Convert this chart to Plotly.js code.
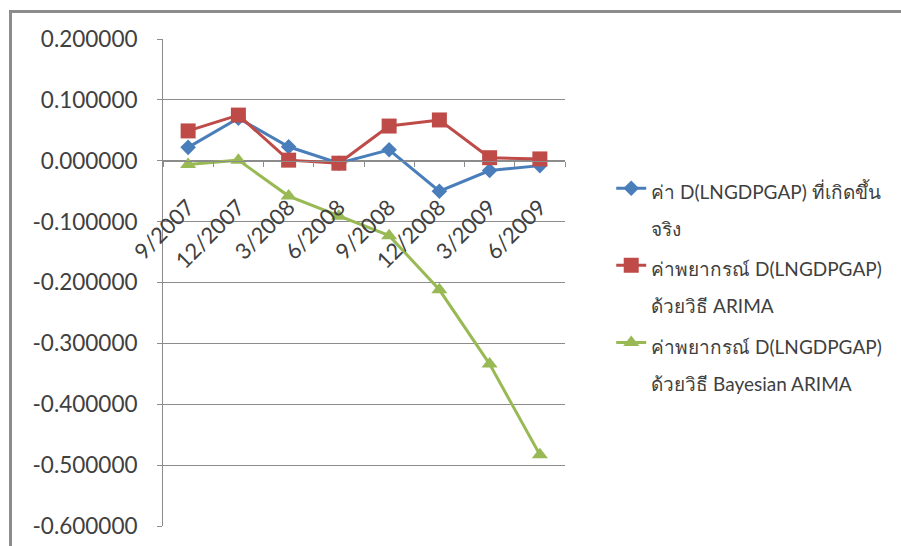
<!DOCTYPE html>
<html>
<head>
<meta charset="utf-8">
<script src="https://cdn.plot.ly/plotly-3.0.1.min.js"></script>
<style>
  html, body { margin: 0; padding: 0; background: #ffffff; }
  #frame { position: absolute; left: 0; top: 0; width: 901px; height: 546px; overflow: hidden; }
  #border { position: absolute; left: 9px; top: 10px; width: 900px; height: 540px;
            border-left: 3px solid #8c8c8c; border-top: 3px solid #8c8c8c; pointer-events: none; }
  #chart { position: absolute; left: 0; top: 0; width: 901px; height: 546px; }
</style>
</head>
<body>
<div id="frame">
  <div id="chart"></div>
  <div id="border"></div>
</div>
<script>
// Quarter labels on the category axis
const quarters = ['9/2007', '12/2007', '3/2008', '6/2008', '9/2008', '12/2008', '3/2009', '6/2009'];

// Observed D(LNGDPGAP)
const actual = [0.022, 0.070, 0.023, -0.004, 0.018, -0.050, -0.016, -0.008];
// ARIMA forecast
const arimaForecast = [0.049, 0.075, 0.001, -0.004, 0.057, 0.067, 0.005, 0.003];
// Bayesian ARIMA forecast
const bayesForecast = [-0.006, 0.001, -0.058, -0.091, -0.123, -0.212, -0.334, -0.483];

// Legend labels, two lines each
const seriesNames = [
  ['ค่า D(LNGDPGAP) ที่เกิดขึ้น', 'จริง'],
  ['ค่าพยากรณ์ D(LNGDPGAP)', 'ด้วยวิธี ARIMA'],
  ['ค่าพยากรณ์ D(LNGDPGAP)', 'ด้วยวิธี Bayesian ARIMA']
];

// Y axis tick values and their labels (six decimals)
const yTicks = [0.2, 0.1, 0, -0.1, -0.2, -0.3, -0.4, -0.5, -0.6];
const yTickText = yTicks.map(v => v.toFixed(6));

const FONT = 'Lato, "Open Sans", "Noto Sans", sans-serif';
const LEGEND_TEXT_PX = 19;

// Wide line pitch in the legend: the legend font sets the spacing,
// the inner span sets the glyph size.
function legendLabel(lines) {
  return lines.map(s => '<span style="font-size:' + LEGEND_TEXT_PX + 'px">' + s + '</span>').join('<br>');
}

const traces = [
  {
    x: quarters, y: actual, name: legendLabel(seriesNames[0]), legendgroup: 'a',
    type: 'scatter', mode: 'lines+markers',
    line: { color: '#4A7EBB', width: 3 },
    marker: { symbol: 'diamond', size: 12, color: '#4A7EBB' }
  },
  {
    x: quarters, y: arimaForecast, name: legendLabel(seriesNames[1]), legendgroup: 'b',
    type: 'scatter', mode: 'lines+markers',
    line: { color: '#BE4B48', width: 3 },
    marker: { symbol: 'square', size: 15, color: '#BE4B48' }
  },
  {
    x: quarters, y: bayesForecast, name: legendLabel(seriesNames[2]), legendgroup: 'c',
    type: 'scatter', mode: 'lines+markers',
    line: { color: '#98B954', width: 3 },
    marker: { symbol: 'triangle-up', size: 14, color: '#98B954' }
  }
];

const layout = {
  width: 901, height: 546,
  margin: { l: 163, r: 336, t: 39, b: 20, pad: 0 },
  paper_bgcolor: '#ffffff', plot_bgcolor: 'rgba(0,0,0,0)',
  font: { family: FONT, size: 19, color: '#404040' },
  showlegend: true,
  legend: {
    x: 1.115, y: 0.745, xanchor: 'left', yanchor: 'top',
    font: { family: FONT, size: 28.5, color: '#404040' },
    valign: 'top', tracegroupgap: 0,
    bgcolor: 'rgba(0,0,0,0)', traceorder: 'normal'
  },
  xaxis: {
    type: 'category',
    anchor: 'free', position: 0.75,
    showgrid: false, zeroline: false,
    showline: true, linecolor: '#8c8c8c', linewidth: 1,
    ticks: 'outside', ticklen: 5, tickcolor: '#8c8c8c', tickson: 'boundaries',
    tickangle: -45, ticklabelstandoff: 24,
    tickfont: { family: FONT, size: 22, color: '#404040' },
    range: [-0.5, 7.5], fixedrange: true
  },
  yaxis: {
    range: [-0.6, 0.2], tickvals: yTicks, ticktext: yTickText,
    showgrid: true, gridcolor: '#8c8c8c', gridwidth: 1,
    zeroline: false, showline: true, linecolor: '#8c8c8c', linewidth: 1,
    ticks: 'outside', ticklen: 5, tickcolor: '#8c8c8c',
    tickfont: { family: FONT, size: 22.5, color: '#404040' },
    ticklabelstandoff: 15, fixedrange: true
  }
};

Plotly.newPlot('chart', traces, layout, { displayModeBar: false, staticPlot: true });
</script>
</body>
</html>
